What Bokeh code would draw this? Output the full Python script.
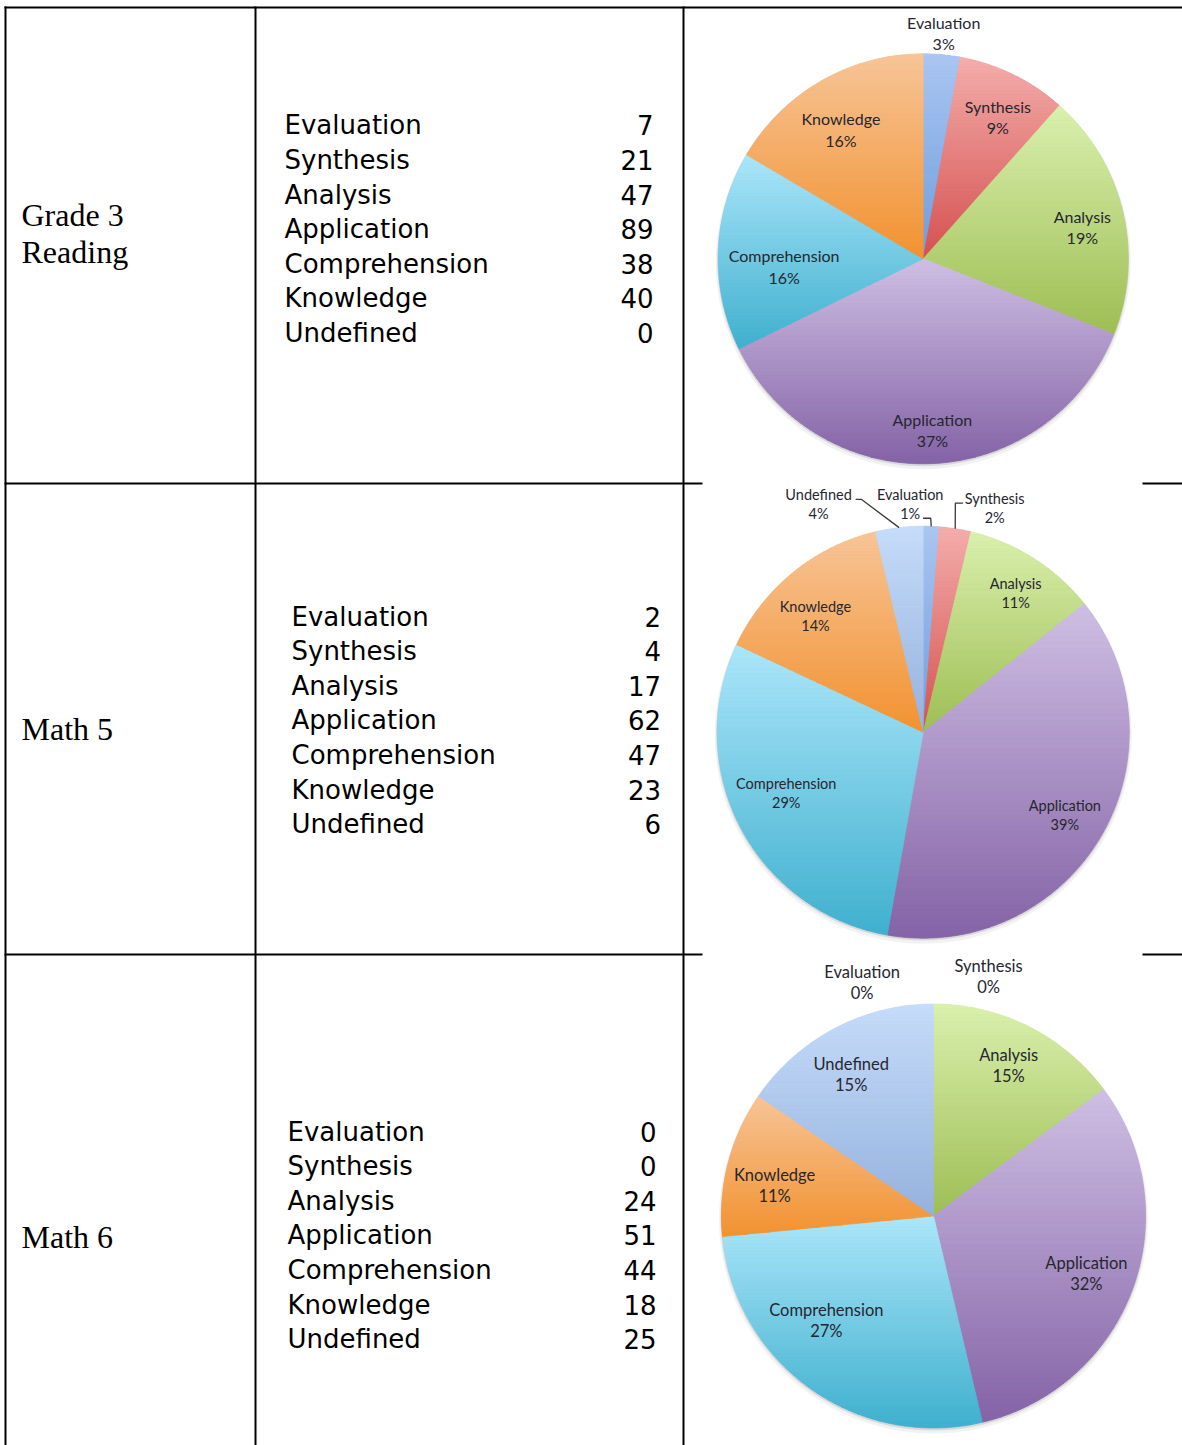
import math
import numpy as np
from bokeh.plotting import figure
from bokeh.models import Range1d, ColumnDataSource
from bokeh.embed import file_html
from bokeh.resources import INLINE
from bokeh.core.properties import value

# ---------------- data ----------------
categories = ["Evaluation", "Synthesis", "Analysis", "Application",
              "Comprehension", "Knowledge", "Undefined"]
row_titles = [["Grade 3", "Reading"], ["Math 5"], ["Math 6"]]
grade3_reading = [7, 21, 47, 89, 38, 40, 0]
math5 = [2, 4, 17, 62, 47, 23, 6]
math6 = [0, 0, 24, 51, 44, 18, 25]
series = [grade3_reading, math5, math6]

# ---------------- styles / layout ----------------
top_colors = ["#aac6f2", "#f4aeac", "#daf0ae", "#cfbfe4", "#ace6fa", "#f7c598", "#c6dcfa"]
bottom_colors = ["#6f9ddd", "#d4514f", "#9ebe54", "#8463a6", "#3fb0ce", "#f29230", "#95b2dd"]

W, H = 1182, 1445
p = figure(width=W, height=H, x_range=Range1d(0, W), y_range=Range1d(-H, 0),
           output_backend="svg", toolbar_location=None, min_border=0,
           x_axis_location=None, y_axis_location=None, title=None)
p.grid.visible = False
p.outline_line_color = None
p.background_fill_color = "white"
p.border_fill_color = "white"


def Y(v):
    return -v


# table geometry (page pixels)
col_x = [5, 255, 683]
row_y = [7, 483, 954]
gap_x0, gap_x1 = 702, 1142

for x in col_x:
    p.segment(x0=[x], y0=[Y(6)], x1=[x], y1=[Y(1460)], line_color="black", line_width=2)
p.segment(x0=[4], y0=[Y(row_y[0])], x1=[1190], y1=[Y(row_y[0])], line_color="black", line_width=2)
for y in row_y[1:]:
    p.segment(x0=[4, gap_x1], y0=[Y(y), Y(y)], x1=[gap_x0, 1190], y1=[Y(y), Y(y)],
              line_color="black", line_width=2)

# row titles
title_baselines = [[214, 251], [728], [1236]]
tx, ty, tt = [], [], []
for lines, bls in zip(row_titles, title_baselines):
    for s, b in zip(lines, bls):
        tx.append(21); ty.append(Y(b)); tt.append(s)
p.text(x=tx, y=ty, text=tt, text_font=value("Liberation Serif"), text_font_size=value("32px"),
       text_color="black", text_baseline="alphabetic", text_align="left")

# category/value lists
list_left = [284, 291, 287]
list_right = [653, 660.5, 656]
list_base0 = [124.8, 616, 1131]
list_step = 34.6
for r, vals in enumerate(series):
    ys = [Y(list_base0[r] + k * list_step) for k in range(len(categories))]
    p.text(x=[list_left[r]] * len(categories), y=ys, text=categories,
           text_font=value("DejaVu Sans"), text_font_size=value("26px"),
           text_color="black", text_baseline="alphabetic", text_align="left")
    p.text(x=[list_right[r]] * len(categories), y=ys, text=[str(v) for v in vals],
           text_font=value("DejaVu Sans"), text_font_size=value("26px"),
           text_color="black", text_baseline="alphabetic", text_align="right")


# ---------------- pies ----------------
def lr_percent(vals):
    total = sum(vals)
    raw = [v * 100.0 / total for v in vals]
    fl = [math.floor(x) for x in raw]
    rem = 100 - sum(fl)
    order = sorted(range(len(vals)), key=lambda i: -(raw[i] - fl[i]))
    for i in order[:rem]:
        fl[i] += 1
    return fl


def hex_rgb(h):
    h = h.lstrip("#")
    return [int(h[i:i + 2], 16) for i in (0, 2, 4)]


def lerp_color(a, b, t):
    ca, cb = hex_rgb(a), hex_rgb(b)
    c = [round(ca[i] + (cb[i] - ca[i]) * t) for i in range(3)]
    return "#%02x%02x%02x" % tuple(c)


def clip_band(poly, y0, y1):
    def clip(pts, keep, yc):
        out = []
        n = len(pts)
        for i in range(n):
            cur, prev = pts[i], pts[i - 1]
            cin, pin = keep(cur), keep(prev)
            if cin != pin:
                t = (yc - prev[1]) / (cur[1] - prev[1])
                out.append((prev[0] + t * (cur[0] - prev[0]), yc))
            if cin:
                out.append(cur)
        return out
    pts = clip(poly, lambda q: q[1] >= y0, y0)
    if len(pts) < 3:
        return []
    return clip(pts, lambda q: q[1] <= y1, y1)


pie_layout = [
    dict(cx=922.7, cy=258.3, R=205, font="16px", gap=21.3, lift=1.5,
         labels=[(1.10, 0), (0.775, 2), (0.79, 2.6), (0.845, -0.8), (0.68, -6), (0.742, -3), None],
         leaders={}),
    dict(cx=922.7, cy=731.7, R=206, font="14.5px", gap=19, lift=1.0,
         labels=[(1.106, -5.5), (1.138, 8.8), (0.808, 1.3), (0.80, 0), (0.73, 3), (0.765, -4), (1.215, -18)],
         leaders={6: [(37, -5.5), (42.7, -5.5)], 0: [(12.8, 13.5), (20.5, 13.5)],
                  1: [(-31.6, -5.8), (-39.3, -5.8)]}),
    dict(cx=933, cy=1215.5, R=212, font="16.5px", gap=21, lift=0.5,
         labels=[(1.151, -17), (1.155, 13), (0.79, 0), (0.772, 0.9), (0.708, 10), (0.763, -3.7), (0.77, -2.5)],
         leaders={}),
]

for vals, L in zip(series, pie_layout):
    cx, cy, R = L["cx"], L["cy"], L["R"]
    total = float(sum(vals))
    frac = [v / total for v in vals]
    cum = np.concatenate([[0.0], np.cumsum(frac)])
    pct = lr_percent(vals)

    # soft shadow
    p.circle(x=[cx], y=[Y(cy + 3)], radius=R + 2.5, fill_color="#000000", fill_alpha=0.05, line_color=None)
    p.circle(x=[cx], y=[Y(cy + 1.5)], radius=R + 1, fill_color="#000000", fill_alpha=0.10, line_color=None)

    # base wedges (clockwise from 12 o'clock)
    idx = [i for i in range(len(vals)) if vals[i] > 0]
    src = ColumnDataSource(dict(
        x=[cx] * len(idx), y=[Y(cy)] * len(idx),
        start=[math.radians(90 - cum[i + 1] * 360) for i in idx],
        end=[math.radians(90 - cum[i] * 360) for i in idx],
        color=[lerp_color(top_colors[i], bottom_colors[i], 0.5) for i in idx],
        cat=[categories[i] for i in idx]))
    p.wedge(x="x", y="y", radius=R, start_angle="start", end_angle="end",
            direction="anticlock", fill_color="color", line_color=None, source=src)

    # vertical gradient bands inside each slice
    bx, by, bc = [], [], []
    for i in idx:
        a0, a1 = cum[i] * 360, cum[i + 1] * 360
        n = max(3, int((a1 - a0) / 0.5) + 2)
        angs = np.radians(np.linspace(a0, a1, n))
        poly = [(cx, cy)] + [(cx + R * math.sin(a), cy - R * math.cos(a)) for a in angs]
        ymin = min(q[1] for q in poly)
        ymax = max(q[1] for q in poly)
        nb = 60
        for k in range(nb):
            y0 = ymin + (ymax - ymin) * k / nb
            y1 = ymin + (ymax - ymin) * (k + 1) / nb
            band = clip_band(poly, y0, y1)
            if len(band) < 3:
                continue
            bx.append([q[0] for q in band])
            by.append([Y(q[1]) for q in band])
            bc.append(lerp_color(top_colors[i], bottom_colors[i], (k + 0.5) / nb))
    p.patches(xs=bx, ys=by, fill_color=bc, line_color=bc, line_width=0.7)

    # labels
    nx, ny, nt, px_, py_, pt = [], [], [], [], [], []
    for i, spec in enumerate(L["labels"]):
        if spec is None:
            continue
        f, dth = spec
        mid = math.radians((cum[i] + cum[i + 1]) / 2 * 360 + dth)
        lx = cx + R * f * math.sin(mid)
        ly = cy - R * f * math.cos(mid)
        if i in L["leaders"]:
            (ldx, ldy), (edx, edy) = L["leaders"][i]
            amid = math.radians((cum[i] + cum[i + 1]) / 2 * 360)
            ex, ey = cx + R * math.sin(amid), cy - R * math.cos(amid)
            p.line(x=[lx + ldx, lx + edx, ex], y=[Y(ly + ldy), Y(ly + edy), Y(ey)],
                   line_color="#3a3a3a", line_width=1.3)
        ly -= L["lift"]
        nx.append(lx); ny.append(Y(ly - L["gap"] / 2)); nt.append(categories[i])
        px_.append(lx); py_.append(Y(ly + L["gap"] / 2)); pt.append("%d%%" % pct[i])
    for xs_, ys_, ts_ in ((nx, ny, nt), (px_, py_, pt)):
        p.text(x=xs_, y=ys_, text=ts_, text_font=value("Lato"), text_font_size=value(L["font"]),
               text_color="#26262f", text_baseline="middle", text_align="center")

open("out.html", "w").write(file_html(p, INLINE))
